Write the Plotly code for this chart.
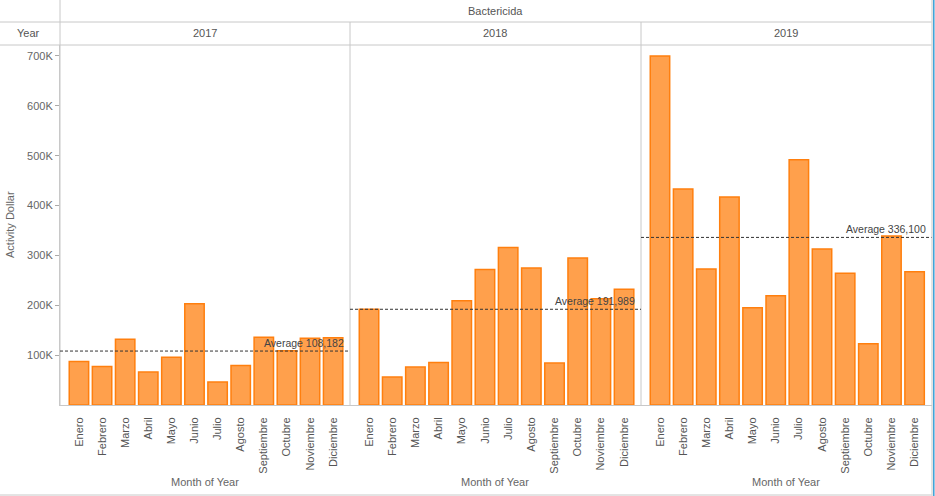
import plotly.graph_objects as go

# datos (Bactericida, Activity Dollar por mes)
months = ['Enero', 'Febrero', 'Marzo', 'Abril', 'Mayo', 'Junio', 'Julio',
          'Agosto', 'Septiembre', 'Octubre', 'Noviembre', 'Diciembre']
years = ['2017', '2018', '2019']
vals_2017 = [87000, 77000, 132000, 66000, 96000, 203000, 46000, 79000, 136000, 109000, 134000, 135000]
vals_2018 = [192000, 56000, 76000, 85000, 209000, 272000, 316000, 275000, 84000, 295000, 213000, 232000]
vals_2019 = [700000, 433000, 273000, 417000, 195000, 219000, 492000, 313000, 264000, 123000, 339000, 267000]
averages = [108182, 191989, 336100]
y_ticks = [100000, 200000, 300000, 400000, 500000, 600000, 700000]
y_tick_text = ['100K', '200K', '300K', '400K', '500K', '600K', '700K']

W, H = 935, 496
FONT = 'Liberation Sans, Arial, sans-serif'
GRID = '#c8c8c8'

def px_x(p):
    return p / W

def px_y(p):
    return 1 - p / H

edges = [60, 350, 641, 931.5]
plot_top, plot_bot = 45, 405

fig = go.Figure()
series = [vals_2017, vals_2018, vals_2019]
for i, vals in enumerate(series):
    xa = 'x' if i == 0 else 'x%d' % (i + 1)
    fig.add_trace(go.Bar(x=months, y=vals, xaxis=xa, yaxis='y',
                         marker=dict(color='#ffa04c', line=dict(color='#ff7f0e', width=1.5)),
                         hoverinfo='x+y', showlegend=False))

layout = dict(
    width=W, height=H,
    margin=dict(l=0, r=0, t=0, b=0),
    paper_bgcolor='white', plot_bgcolor='white',
    bargap=0.16,
    font=dict(family=FONT, size=11, color='#666666'),
    yaxis=dict(domain=[px_y(plot_bot), px_y(plot_top)], range=[0, 722000], anchor='x',
               tickvals=y_ticks, ticktext=y_tick_text, ticks='outside', ticklen=4,
               tickcolor='#aaaaaa', showgrid=False, zeroline=False,
               showline=True, linecolor=GRID, linewidth=1,
               tickfont=dict(size=11, color='#666666')),
)
for i in range(3):
    key = 'xaxis' if i == 0 else 'xaxis%d' % (i + 1)
    layout[key] = dict(domain=[px_x(edges[i]), px_x(edges[i + 1])], anchor='y',
                       type='category', range=[-0.82, 11.73], tickangle=-90,
                       showgrid=False, zeroline=False, showline=True, linecolor=GRID,
                       ticks='', ticklabelstandoff=7,
                       tickfont=dict(size=11, color='#555555'))
fig.update_layout(**layout)

shapes = []
annotations = []
# lineas de cabecera y bordes
for yy in [22, 45, 495]:
    shapes.append(dict(type='line', xref='paper', yref='paper', x0=0, x1=px_x(931.5),
                       y0=px_y(yy), y1=px_y(yy), line=dict(color=GRID, width=1)))
shapes.append(dict(type='line', xref='paper', yref='paper', x0=px_x(60), x1=px_x(60),
                   y0=px_y(0), y1=px_y(plot_bot), line=dict(color=GRID, width=1)))
for e in edges[1:3]:
    shapes.append(dict(type='line', xref='paper', yref='paper', x0=px_x(e), x1=px_x(e),
                       y0=px_y(22), y1=px_y(plot_bot), line=dict(color=GRID, width=1)))
shapes.append(dict(type='line', xref='paper', yref='paper', x0=px_x(932), x1=px_x(932),
                   y0=0, y1=1, line=dict(color=GRID, width=1)))
shapes.append(dict(type='line', xref='paper', yref='paper', x0=px_x(933.8), x1=px_x(933.8),
                   y0=0, y1=1, line=dict(color='#3a9fd6', width=1.5)))

for i, avg in enumerate(averages):
    xref = 'x' if i == 0 else 'x%d' % (i + 1)
    shapes.append(dict(type='line', xref=xref + ' domain', yref='y', x0=0, x1=1,
                       y0=avg, y1=avg, line=dict(color='#333333', width=1, dash='3px,2px')))
    annotations.append(dict(xref=xref + ' domain', yref='y', x=1, y=avg, xanchor='right',
                            yanchor='bottom', xshift=-4, yshift=0, showarrow=False,
                            text='Average {:,}'.format(avg),
                            font=dict(size=10.5, color='#444444')))
    cx = (edges[i] + edges[i + 1]) / 2
    annotations.append(dict(xref='paper', yref='paper', x=px_x(cx), y=px_y(33.5),
                            text=years[i], showarrow=False, xanchor='center', yanchor='middle',
                            font=dict(size=11, color='#555555')))
    annotations.append(dict(xref='paper', yref='paper', x=px_x(cx), y=px_y(482),
                            text='Month of Year', showarrow=False, xanchor='center', yanchor='middle',
                            font=dict(size=11, color='#666666')))

annotations.append(dict(xref='paper', yref='paper', x=px_x(495.5), y=px_y(11),
                        text='Bactericida', showarrow=False, xanchor='center', yanchor='middle',
                        font=dict(size=11, color='#555555')))
annotations.append(dict(xref='paper', yref='paper', x=px_x(28.5), y=px_y(33.5),
                        text='Year', showarrow=False, xanchor='center', yanchor='middle',
                        font=dict(size=11, color='#555555')))
annotations.append(dict(xref='paper', yref='paper', x=px_x(10), y=px_y(225),
                        text='Activity Dollar', textangle=-90, showarrow=False,
                        xanchor='center', yanchor='middle',
                        font=dict(size=11, color='#666666')))

fig.update_layout(shapes=shapes, annotations=annotations)
# quitar el margen por defecto del body para que la figura ocupe toda la ventana
fig.write_html('out.html', config={'displayModeBar': False},
               post_script="document.body.style.margin='0';")
